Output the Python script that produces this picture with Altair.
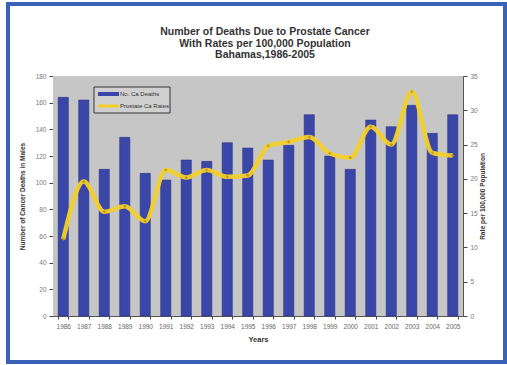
import altair as alt
import pandas as pd

years = [str(y) for y in range(1986, 2006)]
deaths = [164, 162, 110, 134, 107, 102, 117, 116, 130, 126, 117, 128, 151, 120, 110, 147, 142, 158, 137, 151]
rates = [11.2, 19.6, 15.2, 16.0, 13.8, 21.3, 20.2, 21.3, 20.3, 20.5, 24.8, 25.4, 26.1, 23.7, 23.1, 27.6, 25.0, 32.7, 23.8, 23.4]
legend_labels = ["No. Ca Deaths", "Prostate Ca Rates"]
title_lines = ["Number of Deaths Due to Prostate Cancer", "With Rates per 100,000 Population",
               "Bahamas,1986-2005"]

df = pd.DataFrame({"Year": years, "Deaths": deaths, "Rate": rates})
one = pd.DataFrame({"a": [0]})

W, H = 410, 240
BLUE = "#3a47a8"
YEL = "#f3cf2a"
FONT = "Liberation Sans"

x = alt.X("Year:O", title="Years",
          axis=alt.Axis(labelAngle=0, tickBand="extent", labelFontSize=6.5, labelColor="#666",
                        titleFontSize=7.5, titleFontWeight="bold", titleColor="#333",
                        labelPadding=4, titlePadding=6, tickSize=3, tickColor="#444",
                        domainColor="#555", labelFont=FONT, titleFont=FONT),
          scale=alt.Scale(paddingInner=0.5, paddingOuter=0.25))

bg = alt.Chart(one).mark_rect(fill="#c6c6c6").encode(
    x=alt.value(0), x2=alt.value(W), y=alt.value(0), y2=alt.value(H))

bars = alt.Chart(df).mark_bar(color=BLUE, stroke="#26307a", strokeWidth=0.5).encode(
    x=x,
    y=alt.Y("Deaths:Q", title="Number of Cancer Deaths in Males",
            scale=alt.Scale(domain=[0, 180]),
            axis=alt.Axis(orient="left", values=list(range(0, 181, 20)), labelFontSize=6.5, labelColor="#777",
                          titleFontSize=6.5, titleFontWeight="bold", titleColor="#333",
                          tickSize=4, tickColor="#444", domainColor="#555", grid=False,
                          labelPadding=3, titlePadding=10, labelFont=FONT, titleFont=FONT)),
)

line = alt.Chart(df).mark_line(
    color=YEL, strokeWidth=4.5, interpolate="monotone", opacity=0.95,
    point=alt.OverlayMarkDef(shape="cross", size=8, color="#b89a10", filled=True),
).encode(
    x=x,
    y=alt.Y("Rate:Q", title="Rate per 100,000 Population",
            scale=alt.Scale(domain=[0, 35]),
            axis=alt.Axis(orient="right", values=list(range(0, 36, 5)), labelFontSize=6.5,
                          labelColor="#777", titleFontSize=6.5, titleFontWeight="bold",
                          titleColor="#333", tickSize=4, tickColor="#444", domainColor="#555",
                          grid=False, labelPadding=3, titlePadding=8, titleAngle=-90,
                          labelFont=FONT, titleFont=FONT)),
)

# legend box (decoration)
leg_box = alt.Chart(one).mark_rect(fill="#d0d0d0", stroke="#333", strokeWidth=1).encode(
    x=alt.value(41), x2=alt.value(117), y=alt.value(11), y2=alt.value(37))
leg_bar = alt.Chart(one).mark_rule(color=BLUE, strokeWidth=4).encode(
    x=alt.value(45), x2=alt.value(66), y=alt.value(18))
leg_line = alt.Chart(one).mark_rule(color=YEL, strokeWidth=3).encode(
    x=alt.value(45), x2=alt.value(66), y=alt.value(30))
leg_t1 = alt.Chart(one).mark_text(align="left", baseline="middle", fontSize=6, color="#333",
                                  font=FONT, text=legend_labels[0]).encode(
    x=alt.value(67), y=alt.value(18))
leg_t2 = alt.Chart(one).mark_text(align="left", baseline="middle", fontSize=6, color="#333",
                                  font=FONT, text=legend_labels[1]).encode(
    x=alt.value(67), y=alt.value(30))

titles = [
    alt.Chart(one).mark_text(align="center", baseline="middle", fontSize=10.5, fontWeight="bold",
                             color="#333", font=FONT, text=t).encode(
        x=alt.value(212), y=alt.value(-44 + 11.5 * i))
    for i, t in enumerate(title_lines)
]

frame = alt.Chart(one).mark_rect(fill=None, stroke="#3a62b8", strokeWidth=4).encode(
    x=alt.value(-45), x2=alt.value(452), y=alt.value(-72), y2=alt.value(286))

chart = alt.layer(bg, bars, line, leg_box, leg_bar, leg_line, leg_t1, leg_t2, *titles, frame).resolve_scale(
    y="independent"
).properties(
    width=W, height=H,
    autosize=alt.AutoSizeParams(type="none"),
    padding={"left": 53, "top": 76, "right": 44, "bottom": 49},
).configure_view(stroke=None).configure(background="white")

chart.save("out.html", embed_options={"renderer": "svg", "actions": False})
